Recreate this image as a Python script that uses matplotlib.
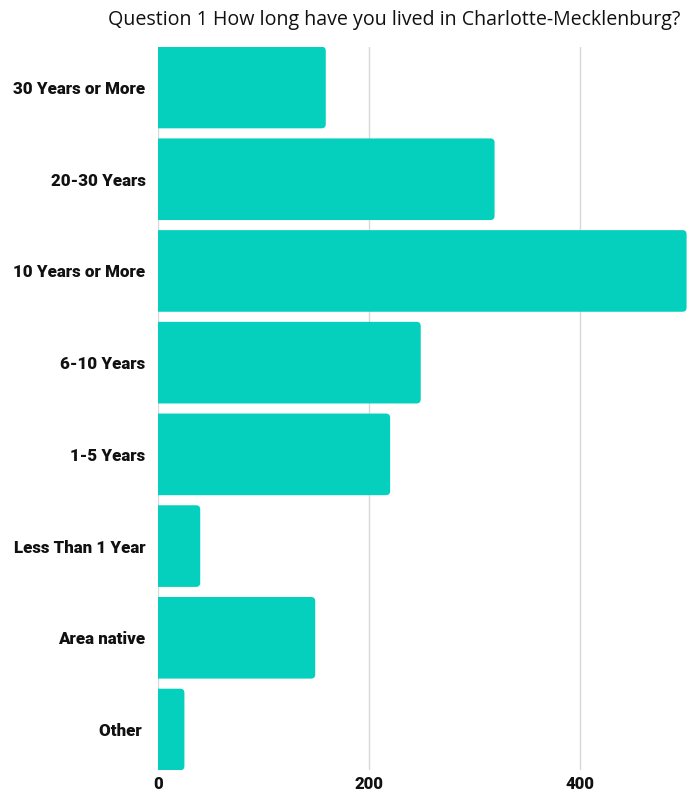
import matplotlib
matplotlib.use("Agg")
from matplotlib import pyplot as plt
from matplotlib.patches import FancyBboxPatch

# Respostas da pergunta 1
categorias = [
    "30 Years or More", "20-30 Years", "10 Years or More", "6-10 Years",
    "1-5 Years", "Less Than 1 Year", "Area native", "Other ",
]
respostas = [159, 319, 501, 249, 220, 40, 149, 25]
ticks_x = [0, 200, 400]

cor = "#05CFBD"

fig = plt.figure(figsize=(6.98, 7.93), dpi=100)
ax = fig.add_axes([0.2264, 0.0286, 0.7633, 0.9125])

bars = ax.barh(categorias, respostas, height=0.89, color=cor)
ax.set_xlim(0, 505)
ax.set_ylim(7.445, -0.445)

# barras com cantos arredondados só na ponta direita
for bar in bars:
    bar.set_visible(False)
    x0 = -20
    w = bar.get_width() - x0
    p = FancyBboxPatch((x0, bar.get_y()), w, bar.get_height(),
                       boxstyle="round,pad=0,rounding_size=4",
                       mutation_aspect=0.0115,
                       facecolor=cor, edgecolor="none", zorder=3)
    ax.add_patch(p)

ax.set_xticks(ticks_x)
ax.set_xticklabels([str(t) for t in ticks_x])
ax.grid(axis="x", color="#d9d9d9", linewidth=1)
ax.set_axisbelow(True)
for s in ax.spines.values():
    s.set_visible(False)
ax.tick_params(axis="both", length=0)
ax.tick_params(axis="y", pad=9)
ax.tick_params(axis="x", pad=4)
for lab in ax.get_yticklabels():
    lab.set_fontfamily("Roboto")
    lab.set_fontweight("heavy")
    lab.set_fontsize(12.2)
    lab.set_color("#111111")
for lab in ax.get_xticklabels():
    lab.set_fontfamily("Roboto")
    lab.set_fontweight("heavy")
    lab.set_fontsize(12)
    lab.set_color("#111111")

fig.text(680 / 698, 1 - 20 / 793,
         "Question 1 How long have you lived in Charlotte-Mecklenburg?",
         ha="right", va="center", fontsize=14.1, family="Open Sans",
         color="#111111")

fig.savefig("out.png", dpi=100)
